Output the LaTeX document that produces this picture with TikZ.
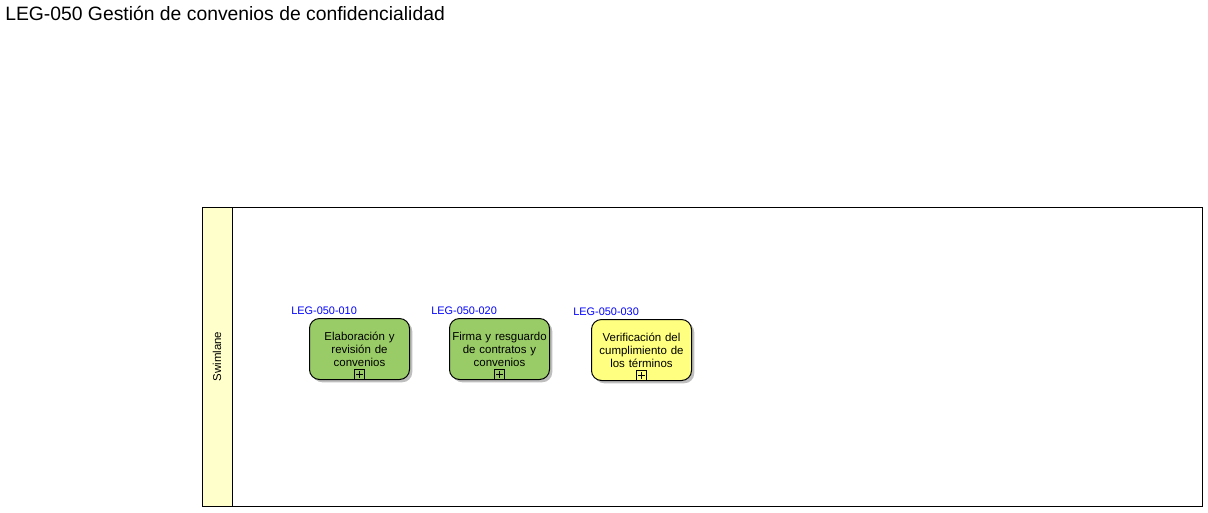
\documentclass[tikz,border=0pt]{standalone}
\usepackage{fontspec}
\setmainfont{Liberation Sans}
\definecolor{taskgreen}{RGB}{153,204,102}
\definecolor{taskyellow}{RGB}{255,255,128}
\definecolor{laneyellow}{RGB}{255,255,204}
\definecolor{idblue}{RGB}{0,0,255}
\definecolor{shadowgray}{RGB}{190,190,190}
\begin{document}
\begin{tikzpicture}[x=0.75pt,y=-0.75pt,
  taskbox/.style={draw=black,line width=0.75pt,rounded corners=7.5pt,minimum width=75pt,minimum height=45.75pt,inner sep=1pt,text width=72.5pt,align=center,font=\fontsize{8.6}{9.8}\selectfont,anchor=north west},
  shadowbox/.style={fill=shadowgray,rounded corners=7.5pt,minimum width=75pt,minimum height=45.75pt,anchor=north west,inner sep=0pt},
  idlabel/.style={text=idblue,font=\fontsize{8.2}{9.4}\selectfont,anchor=south west,inner sep=0pt},
  plusbox/.style={draw=black,line width=0.6pt,minimum size=7.5pt,inner sep=0pt,fill=none}
]
\useasboundingbox (0,0) rectangle (1208,512);
\node[anchor=west,inner sep=0pt,font=\fontsize{14.5}{17}\selectfont] (title) at (5,13) {LEG-050 Gestión de convenios de confidencialidad};
% pool
\draw[line width=0.75pt] (202,207) rectangle (1202,506);
\draw[line width=0.75pt,fill=laneyellow] (202,207) rectangle (232,506);
\node[rotate=90,font=\fontsize{8.6}{9.8}\selectfont,inner sep=0pt] (lane) at (217,356.5) {Swimlane};
% shadows
\node[shadowbox] (s1) at (312,321) {};
\node[shadowbox] (s2) at (452,321) {};
\node[shadowbox] (s3) at (594,322) {};
% tasks
\node[taskbox,fill=taskgreen] (t1) at (309,318) {Elaboración y\\revisión de\\convenios\\[5pt]};
\node[taskbox,fill=taskgreen] (t2) at (449,318) {Firma y resguardo\\de contratos y\\convenios\\[5pt]};
\node[taskbox,fill=taskyellow] (t3) at (591,319) {Verificación del\\cumplimiento de\\los términos\\[5pt]};
% plus markers
\foreach \t in {t1,t2,t3}{
  \node[plusbox,anchor=south] (\t p) at ([yshift=0pt]\t.south) {};
  \draw[line width=0.6pt] ([xshift=-2.5pt]\t p.center) -- ([xshift=2.5pt]\t p.center);
  \draw[line width=0.6pt] ([yshift=-2.5pt]\t p.center) -- ([yshift=2.5pt]\t p.center);
}
% ids
\node[idlabel] (l1) at (291,315) {LEG-050-010};
\node[idlabel] (l2) at (431,315) {LEG-050-020};
\node[idlabel] (l3) at (573,316) {LEG-050-030};
\end{tikzpicture}
\end{document}
